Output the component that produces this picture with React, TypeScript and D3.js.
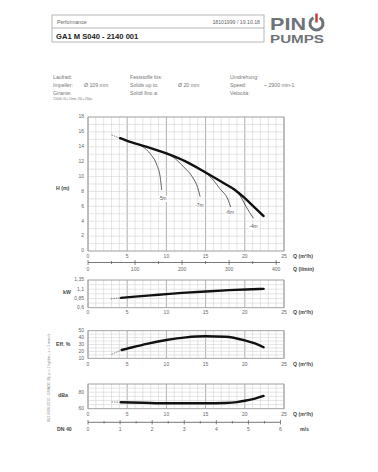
import React from "react";
import * as d3 from "d3";

// ---- data ----
const hQ = [3.0, 4.1, 5, 7.5, 10, 12.5, 15, 17.5, 18.75, 20, 21.2, 22.4];
const hH = [15.6, 15.15, 14.8, 14.0, 13.1, 12.0, 10.55, 9.0, 8.2, 7.1, 5.9, 4.7];
const sub5Q = [6.0, 7.0, 7.9, 8.8, 9.2, 9.4];
const sub5H = [14.45, 14.0, 13.1, 11.5, 10.0, 8.2];
const sub7Q = [9.6, 11, 12.2, 13.4, 14.0, 14.3];
const sub7H = [13.25, 12.5, 11.3, 9.8, 8.5, 7.3];
const sub6Q = [14.7, 16, 16.8, 17.9, 18.2];
const sub6H = [10.75, 9.5, 8.4, 6.8, 5.9];
const sub4Q = [18.75, 19.5, 20.2, 21.1];
const sub4H = [8.2, 7.25, 5.9, 4.4];
const subLabels = ["-5m", "-7m", "-6m", "-4m"];
const subLabelQ = [9.5, 14.2, 18.1, 21.1];
const subLabelH = [7.0, 6.1, 5.1, 3.2];

const kwQ = [2.9, 4.2, 6, 9, 12, 15, 18, 21, 22.4];
const kwV = [0.84, 0.865, 0.9, 0.95, 1.0, 1.04, 1.075, 1.1, 1.11];
const effQ = [3.0, 4.3, 5, 7.5, 10, 12.5, 15, 17.5, 20, 21.3, 22.4];
const effV = [15.8, 22, 24, 31, 36.5, 40.4, 42, 41.3, 36, 31.5, 26];
const dbQ = [3.0, 4.2, 7, 10, 15, 17.5, 19, 20, 21.3, 22.4];
const dbV = [68.2, 67.8, 67.2, 66.6, 66.6, 67, 68, 69.6, 72.3, 75.5];

const qTicks = [0, 5, 10, 15, 20, 25];
const hTicks = [0, 2, 4, 6, 8, 10, 12, 14, 16, 18];
const lminTicks = [0, 100, 200, 300, 400];
const kwTicks = [0.6, 0.85, 1.1, 1.35];
const kwTickLabels = ["0,6", "0,85", "1,1", "1,35"];
const effTicks = [10, 20, 30, 40, 50];
const dbTicks = [60, 80];
const msTicks = [0, 1, 2, 3, 4, 5, 6];

const FONT = "Liberation Sans, Arial, sans-serif";
const GRID = "#d4d4d4";
const MAJ = "#9a9a9a";
const TXT = "#666";

const X0 = 88, X1 = 284;
const xQ = d3.scaleLinear().domain([0, 25]).range([X0, X1]);
const yH = d3.scaleLinear().domain([0, 18]).range([251, 117]);
const xL = d3.scaleLinear().domain([0, 25000 / 60]).range([X0, X1]);
const yKw = d3.scaleLinear().domain([0.6, 1.35]).range([307.7, 280]);
const yEff = d3.scaleLinear().domain([10, 50]).range([358.3, 330.7]);
const yDb = d3.scaleLinear().domain([60, 90]).range([408.7, 384]);
const xMs = d3.scaleLinear().domain([0, 6]).range([X0, 280.5]);

function mkLine(y: d3.ScaleLinear<number, number>) {
  return d3
    .line<[number, number]>()
    .x((d) => xQ(d[0]))
    .y((d) => y(d[1]))
    .curve(d3.curveMonotoneX);
}
const zip = (a: number[], b: number[]) => a.map((v, i) => [v, b[i]] as [number, number]);

function Grid({ y, yMin, yMax, step }: { y: d3.ScaleLinear<number, number>; yMin: number; yMax: number; step: number }) {
  const vs = d3.range(0, 26, 1);
  const hs = d3.range(yMin, yMax + step / 2, step);
  const top = y(yMax), bot = y(yMin);
  return (
    <g>
      {vs.map((v) => (
        <line key={"v" + v} x1={xQ(v)} x2={xQ(v)} y1={top} y2={bot} stroke={v % 5 === 0 ? MAJ : GRID} strokeWidth={v % 5 === 0 ? 0.8 : 0.6} />
      ))}
      {hs.map((h, i) => (
        <line key={"h" + i} x1={X0} x2={X1} y1={y(h)} y2={y(h)} stroke={GRID} strokeWidth={0.6} />
      ))}
      <rect x={X0} y={top} width={X1 - X0} height={bot - top} fill="none" stroke={MAJ} strokeWidth={0.8} />
    </g>
  );
}

function QAxisLabels({ yPos }: { yPos: number }) {
  return (
    <g>
      {qTicks.map((t) => (
        <text key={t} x={xQ(t)} y={yPos} fontSize={5} fill={TXT} textAnchor="middle" dominantBaseline="middle">{t}</text>
      ))}
      <text x={293} y={yPos} fontSize={5.2} fontWeight="bold" fill="#444" dominantBaseline="middle">Q (m³/h)</text>
    </g>
  );
}

function Curve({ q, v, y, from }: { q: number[]; v: number[]; y: d3.ScaleLinear<number, number>; from: number }) {
  const line = mkLine(y);
  const pts = zip(q, v);
  return (
    <g>
      <path d={line(pts.slice(0, from + 1)) || ""} fill="none" stroke="#333" strokeWidth={0.6} strokeDasharray="1.5,1" />
      <path d={line(pts.slice(from)) || ""} fill="none" stroke="#111" strokeWidth={2.4} strokeLinecap="round" />
    </g>
  );
}

export default function App() {
  const hLine = mkLine(yH);
  const subs = [zip(sub5Q, sub5H), zip(sub7Q, sub7H), zip(sub6Q, sub6H), zip(sub4Q, sub4H)];
  const lminMinor = d3.range(0, 401, 50);
  const msMinor = d3.range(0, 6.01, 0.5);
  return (
    <svg width={378} height={472} style={{ position: "absolute", left: 0, top: 0, background: "#fff" }} fontFamily={FONT}>
      <rect width={378} height={472} fill="#fff" />
      {/* header */}
      <rect x={52} y={15} width={212} height={27} fill="none" stroke="#999" strokeWidth={0.7} />
      <line x1={52} x2={264} y1={28} y2={28} stroke="#999" strokeWidth={0.7} />
      <text x={57} y={24} fontSize={5.2} fill="#666">Performance</text>
      <text x={260} y={24} fontSize={5.2} fill="#666" textAnchor="end">18101999 /  19.10.18</text>
      <text x={56} y={38.5} fontSize={7.6} fontWeight="bold" fill="#222">GA1 M S040 - 2140 001</text>
      {/* logo */}
      <text x={270} y={30} fontSize={17} fontWeight="bold" fill="#6e7379" textLength={36} lengthAdjust="spacingAndGlyphs">PIN</text>
      <path d={d3.arc()({ innerRadius: 5, outerRadius: 8, startAngle: 0.5, endAngle: 2 * Math.PI - 0.5 }) || ""} transform="translate(316.5,23.5)" fill="#6e7379" />
      <rect x={315.3} y={13.5} width={2.4} height={9} fill="#d8322d" />
      <text x={270} y={42.5} fontSize={11.5} fontWeight="bold" fill="#6e7379" textLength={54} lengthAdjust="spacingAndGlyphs">PUMPS</text>

      {/* info */}
      <g fontSize={5.2} fill="#777">
        <text x={53} y={79}>Laufrad:</text>
        <text x={53} y={87}>Impeller:</text>
        <text x={84} y={87}>Ø 109 mm</text>
        <text x={53} y={94.5}>Girante:</text>
        <text x={53} y={99.5} fontSize={2.6}>T10000: 60 = 10mm, 200 = 280pa</text>
        <text x={130} y={79}>Feststoffe bis:</text>
        <text x={130} y={87}>Solids up to:</text>
        <text x={178} y={87}>Ø 20 mm</text>
        <text x={130} y={94.5}>Solidi fino a:</text>
        <text x={230} y={79}>Umdrehung:</text>
        <text x={230} y={87}>Speed:</text>
        <text x={264} y={87}>~ 2900 min-1</text>
        <text x={230} y={94.5}>Velocità:</text>
      </g>

      {/* main H chart */}
      <Grid y={yH} yMin={0} yMax={18} step={1} />
      {hTicks.map((t) => (
        <text key={t} x={84} y={yH(t)} fontSize={5} fill={TXT} textAnchor="end" dominantBaseline="middle">{t}</text>
      ))}
      <text x={56} y={189} fontSize={5.2} fontWeight="bold" fill="#444" dominantBaseline="middle">H (m)</text>
      {subs.map((s, i) => (
        <path key={i} d={hLine(s) || ""} fill="none" stroke="#222" strokeWidth={0.7} />
      ))}
      <path d={hLine(zip(hQ, hH).slice(0, 2)) || ""} fill="none" stroke="#333" strokeWidth={0.6} strokeDasharray="1.5,1" />
      <path d={hLine(zip(hQ, hH).slice(1)) || ""} fill="none" stroke="#111" strokeWidth={2.4} strokeLinecap="round" />
      {subLabels.map((l, i) => (
        <g key={l}>
          <rect x={xQ(subLabelQ[i]) - 5} y={yH(subLabelH[i]) - 3} width={10} height={6} fill="#fff" />
          <text x={xQ(subLabelQ[i])} y={yH(subLabelH[i])} fontSize={4.8} fill="#555" textAnchor="middle" dominantBaseline="middle">{l}</text>
        </g>
      ))}
      <QAxisLabels yPos={257} />
      {/* l/min axis */}
      <line x1={X0} x2={280} y1={262.5} y2={262.5} stroke="#555" strokeWidth={0.8} />
      {lminMinor.map((t) => (
        <line key={t} x1={xL(t)} x2={xL(t)} y1={t % 100 === 0 ? 260 : 261} y2={t % 100 === 0 ? 265 : 264} stroke="#555" strokeWidth={0.7} />
      ))}
      {lminTicks.map((t) => (
        <text key={t} x={xL(t)} y={270} fontSize={5} fill={TXT} textAnchor="middle" dominantBaseline="middle">{t}</text>
      ))}
      <text x={293} y={270} fontSize={5.2} fontWeight="bold" fill="#444" dominantBaseline="middle">Q (l/min)</text>

      {/* kW chart */}
      <Grid y={yKw} yMin={0.6} yMax={1.35} step={0.125} />
      {kwTicks.map((t, i) => (
        <text key={t} x={84} y={yKw(t)} fontSize={5} fill={TXT} textAnchor="end" dominantBaseline="middle">{kwTickLabels[i]}</text>
      ))}
      <text x={63} y={293} fontSize={5.2} fontWeight="bold" fill="#444" dominantBaseline="middle">kW</text>
      <Curve q={kwQ} v={kwV} y={yKw} from={1} />
      <QAxisLabels yPos={313} />

      {/* Eff chart */}
      <Grid y={yEff} yMin={10} yMax={50} step={5} />
      {effTicks.map((t) => (
        <text key={t} x={84} y={yEff(t)} fontSize={5} fill={TXT} textAnchor="end" dominantBaseline="middle">{t}</text>
      ))}
      <text x={56} y={345} fontSize={5.2} fontWeight="bold" fill="#444" dominantBaseline="middle">Eff. %</text>
      <Curve q={effQ} v={effV} y={yEff} from={1} />
      <QAxisLabels yPos={364.5} />

      {/* dBa chart */}
      <Grid y={yDb} yMin={60} yMax={90} step={5} />
      {dbTicks.map((t) => (
        <text key={t} x={84} y={yDb(t)} fontSize={5} fill={TXT} textAnchor="end" dominantBaseline="middle">{t}</text>
      ))}
      <text x={58} y={396} fontSize={5.2} fontWeight="bold" fill="#444" dominantBaseline="middle">dBa</text>
      <Curve q={dbQ} v={dbV} y={yDb} from={1} />
      <QAxisLabels yPos={415} />

      {/* m/s axis */}
      <line x1={X0} x2={280.5} y1={422.3} y2={422.3} stroke="#555" strokeWidth={0.8} />
      {msMinor.map((t, i) => (
        <line key={i} x1={xMs(t)} x2={xMs(t)} y1={i % 2 === 0 ? 420 : 421} y2={i % 2 === 0 ? 424.5 : 423.5} stroke="#555" strokeWidth={0.7} />
      ))}
      {msTicks.map((t) => (
        <text key={t} x={xMs(t)} y={429.5} fontSize={5} fill={TXT} textAnchor="middle" dominantBaseline="middle">{t}</text>
      ))}
      <text x={57} y={429.5} fontSize={5.2} fontWeight="bold" fill="#444" dominantBaseline="middle">DN 40</text>
      <text x={300} y={429.5} fontSize={5.2} fontWeight="bold" fill="#444" dominantBaseline="middle">m/s</text>

      {/* rotated note */}
      <text transform="translate(49,378) rotate(-90)" fontSize={3.6} fill="#888" textAnchor="middle" dominantBaseline="middle">ISO 9906:2012 - GRADE 3B, ρ = 1 kg/dm³, ν = 1 mm²/s</text>
    </svg>
  );
}
